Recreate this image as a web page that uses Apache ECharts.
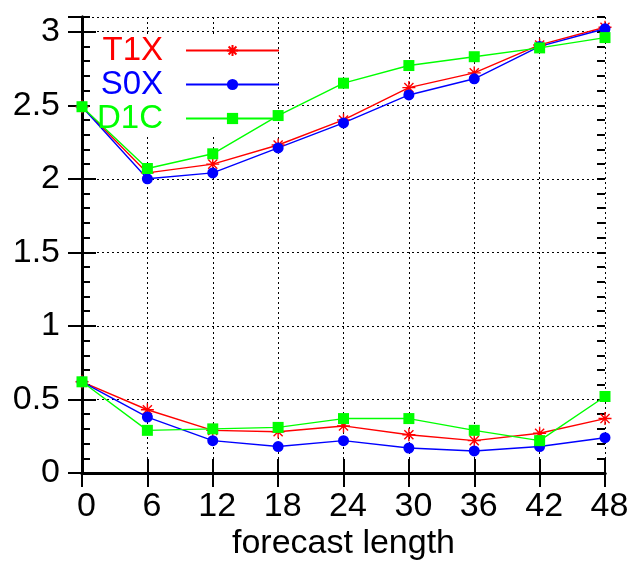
<!DOCTYPE html>
<html>
<head>
<meta charset="utf-8">
<script src="https://cdn.jsdelivr.net/npm/echarts@6/dist/echarts.min.js"></script>
<style>
  html, body { margin: 0; padding: 0; background: #fff; }
  #chart { width: 644px; height: 562px; }
</style>
</head>
<body>
<div id="chart"></div>
<script>
// forecast length (x axis)
const forecastLength = [0, 6, 12, 18, 24, 30, 36, 42, 48];

// upper group of curves
const t1xUpper = [2.49, 2.04, 2.10, 2.23, 2.40, 2.62, 2.72, 2.91, 3.03];
const s0xUpper = [2.49, 2.00, 2.04, 2.21, 2.38, 2.57, 2.68, 2.90, 3.02];
const d1cUpper = [2.49, 2.07, 2.17, 2.43, 2.65, 2.77, 2.83, 2.89, 2.96];

// lower group of curves
const t1xLower = [0.62, 0.43, 0.29, 0.28, 0.32, 0.26, 0.22, 0.27, 0.37];
const s0xLower = [0.62, 0.38, 0.22, 0.18, 0.22, 0.17, 0.15, 0.18, 0.24];
const d1cLower = [0.62, 0.29, 0.30, 0.31, 0.37, 0.37, 0.29, 0.22, 0.52];

const seriesNames = ['T1X', 'S0X', 'D1C'];
const seriesColors = ['#ff0000', '#0000ff', '#00ff00'];

const FONT = 'Liberation Sans';
const starPath = 'path://M0 5H10M5 0V10M1.5 1.5L8.5 8.5M1.5 8.5L8.5 1.5';

const pairs = ys => forecastLength.map((x, i) => [x, ys[i]]);

const makeSeries = (name, color, ys, symbol, size) => ({
  name: name,
  type: 'line',
  data: pairs(ys),
  symbol: symbol,
  symbolSize: size,
  lineStyle: { width: 1.4, color: color },
  itemStyle: { color: color, borderColor: color, borderWidth: symbol === starPath ? 1.4 : 0 },
  emphasis: { disabled: true }
});

const chart = echarts.init(document.getElementById('chart'));

// extra axes that only draw the 0.1 minor ticks
const minorTickAxis = pos => ({
  type: 'value', position: pos, min: 0, max: 3.1, interval: 0.1, z: 3,
  axisLine: { show: false },
  axisTick: { show: true, inside: true, length: 8, lineStyle: { color: '#000', width: 2 } },
  axisLabel: { show: false },
  splitLine: { show: false }
});

chart.setOption({
  animation: false,
  backgroundColor: '#fff',
  grid: { left: 82, right: 39, top: 17, bottom: 89, outerBoundsMode: 'none' },
  graphic: {
    elements: [{
      type: 'rect', z: 1,
      shape: { x: 84, y: 35, width: 192, height: 102 },
      style: { fill: '#fff' }
    }]
  },
  legend: {
    data: seriesNames.map((n, i) => ({ name: n, textStyle: { color: seriesColors[i] } })),
    orient: 'vertical',
    align: 'right',
    left: 97,
    top: 34,
    padding: 0,
    itemGap: 1,
    itemWidth: 93,
    itemHeight: 14,
    selectedMode: false,
    textStyle: { fontFamily: FONT, fontSize: 33, padding: [0, 18, 0, 0] }
  },
  xAxis: [{
    type: 'value', position: 'bottom', min: 0, max: 48, interval: 6,
    name: 'forecast length', nameLocation: 'middle', nameGap: 54, nameMoveOverlap: false,
    nameTextStyle: { fontFamily: FONT, fontSize: 34, color: '#000' },
    axisLine: { show: true, lineStyle: { color: '#000', width: 3 } },
    axisTick: { show: true, inside: true, length: 14, lineStyle: { color: '#000', width: 2 } },
    axisLabel: { fontFamily: FONT, fontSize: 34, color: '#000', margin: 17, padding: [0, 0, 0, 9] },
    splitLine: { show: true, lineStyle: { color: '#000', width: 1, type: [2, 3] } }
  }, {
    type: 'value', position: 'top', min: 0, max: 48, interval: 6,
    axisLine: { show: true, lineStyle: { color: '#000', width: 3 } },
    axisTick: { show: true, inside: true, length: 14, lineStyle: { color: '#000', width: 2 } },
    axisLabel: { show: false },
    splitLine: { show: false }
  }],
  yAxis: [{
    type: 'value', position: 'left', min: 0, max: 3.1, interval: 0.5,
    axisLine: { show: true, lineStyle: { color: '#000', width: 3 } },
    axisTick: { show: true, inside: true, length: 14, lineStyle: { color: '#000', width: 2 } },
    axisLabel: { fontFamily: FONT, fontSize: 34, color: '#000', margin: 22, showMaxLabel: false },
    splitLine: { show: true, lineStyle: { color: '#000', width: 1, type: [2, 3] } }
  }, {
    type: 'value', position: 'right', min: 0, max: 3.1, interval: 0.5,
    axisLine: { show: true, lineStyle: { color: '#000', width: 3 } },
    axisTick: { show: true, inside: true, length: 14, lineStyle: { color: '#000', width: 2 } },
    axisLabel: { show: false },
    splitLine: { show: false }
  }, minorTickAxis('left'), minorTickAxis('right')],
  series: [
    makeSeries('T1X', seriesColors[0], t1xUpper, starPath, 13),
    makeSeries('T1X', seriesColors[0], t1xLower, starPath, 13),
    makeSeries('S0X', seriesColors[1], s0xUpper, 'circle', 11),
    makeSeries('S0X', seriesColors[1], s0xLower, 'circle', 11),
    makeSeries('D1C', seriesColors[2], d1cUpper, 'rect', 11),
    makeSeries('D1C', seriesColors[2], d1cLower, 'rect', 11)
  ]
});
</script>
</body>
</html>
